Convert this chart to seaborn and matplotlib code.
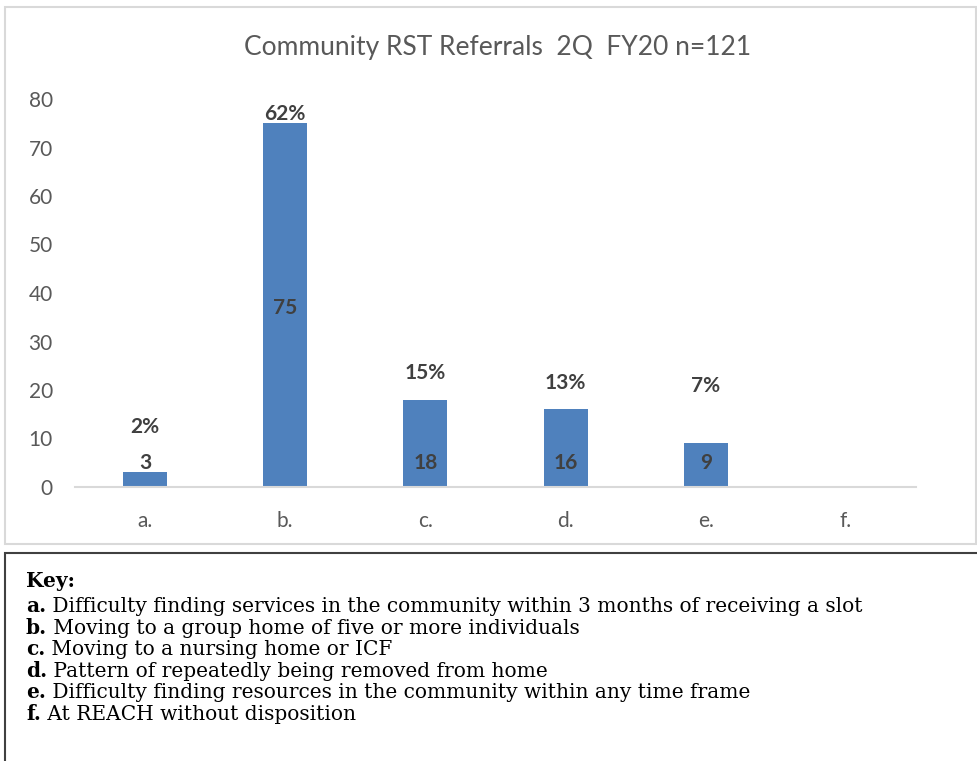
import matplotlib
matplotlib.use('Agg')
import matplotlib.pyplot as plt
import seaborn as sns
from matplotlib.patches import Rectangle

# chart data
categories = ['a.', 'b.', 'c.', 'd.', 'e.', 'f.']
counts = [3, 75, 18, 16, 9, 0]
percents = ['2%', '62%', '15%', '13%', '7%', '']
title = 'Community RST Referrals  2Q  FY20 n=121'

# key text under the chart
key_letters = ['a.', 'b.', 'c.', 'd.', 'e.', 'f.']
key_texts = [
    'Difficulty finding services in the community within 3 months of receiving a slot',
    'Moving to a group home of five or more individuals',
    'Moving to a nursing home or ICF',
    'Pattern of repeatedly being removed from home',
    'Difficulty finding resources in the community within any time frame',
    'At REACH without disposition',
]

# where the labels sit (data units), as they were placed in the original
pct_y = [12.4, 77.0, 23.5, 21.4, 20.8, 0]
cnt_y = [4.9, 37.0, 5.0, 5.0, 5.0, 0]

sns.set_theme(style='white')
plt.rcParams['font.family'] = ['Lato', 'DejaVu Sans']

W, H = 977, 761
fig = plt.figure(figsize=(W / 100, H / 100), dpi=100)

# outer boxes
fig.patches.append(Rectangle((5 / W, 1 - 544 / H), 971 / W, 537 / H,
                             transform=fig.transFigure, fill=False,
                             edgecolor='#d9d9d9', lw=1.5))
fig.patches.append(Rectangle((5 / W, -0.05), 1.0, 1 - 553 / H + 0.05,
                             transform=fig.transFigure, fill=False,
                             edgecolor='#404040', lw=1.5))

ax = fig.add_axes([75 / W, 1 - 487 / H, 841 / W, 388 / H])
sns.barplot(x=categories, y=counts, color='#4f81bd', width=0.314,
            linewidth=0, saturation=1, ax=ax)
ax.set_ylim(0, 80)
ax.set_xlim(-0.5, 5.5)
ax.set_yticks(range(0, 81, 10))
ax.set_xlabel('')
ax.set_ylabel('')
for s in ['top', 'right', 'left']:
    ax.spines[s].set_visible(False)
ax.spines['bottom'].set_color('#d9d9d9')
ax.spines['bottom'].set_linewidth(1.5)
ax.tick_params(axis='y', length=0, pad=16, labelsize=15, labelcolor='#595959')
ax.tick_params(axis='x', length=0, pad=17, labelsize=15, labelcolor='#595959')
ax.grid(False)

for i, (c, p) in enumerate(zip(counts, percents)):
    if c == 0:
        continue
    ax.text(i, cnt_y[i], str(c), ha='center', va='center', fontsize=15,
            fontweight='bold', color='#404040')
    ax.text(i, pct_y[i], p, ha='center', va='center', fontsize=15,
            fontweight='bold', color='#404040')

fig.text(497.5 / W, 1 - 47 / H, title, ha='center', va='center',
         fontsize=19, color='#595959')

# key
serif = ['DejaVu Serif']
ks = 14.5
fig.text(26 / W, 1 - 587 / H, 'Key:', ha='left', va='baseline',
         fontsize=ks, fontweight='bold', family=serif, color='black')
for j, (letter, txt) in enumerate(zip(key_letters, key_texts)):
    base = 612 + j * 21.6
    b = fig.text(26 / W, 1 - base / H, letter, ha='left', va='baseline',
                 fontsize=ks, fontweight='bold', family=serif, color='black')
    ax.annotate(' ' + txt, xy=(1, 0), xycoords=b, ha='left', va='bottom',
                fontsize=ks, family=serif, color='black',
                annotation_clip=False)

fig.savefig('out.png', dpi=100)
